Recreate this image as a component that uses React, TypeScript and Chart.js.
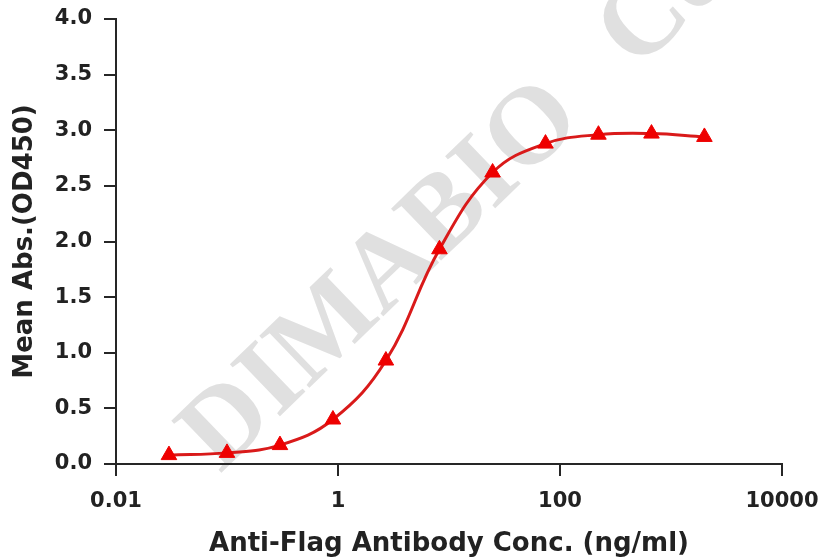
import React, { useEffect, useRef } from "react";
import { Chart, registerables } from "chart.js";

Chart.register(...registerables);

// ---- data ----
const concentrations = [0.03, 0.1, 0.3, 0.9, 2.7, 8.2, 24.7, 74, 222, 667, 2000];
const meanAbs = [0.08, 0.1, 0.17, 0.4, 0.93, 1.93, 2.62, 2.88, 2.96, 2.97, 2.94];
const xTickValues = [0.01, 1, 100, 10000];
const yTickValues = [0, 0.5, 1.0, 1.5, 2.0, 2.5, 3.0, 3.5, 4.0];
const xTitle = "Anti-Flag Antibody Conc. (ng/ml)";
const yTitle = "Mean Abs.(OD450)";
const watermarkWords = ["DIMABIO", "Co."];

const TEXT = "#222222";
const AXIS = "#262626";
const FONT_FAMILY = '"DejaVu Sans", "Liberation Sans", Arial, sans-serif';

const watermarkPlugin = {
  id: "watermark",
  beforeDraw(chart: any) {
    const ctx = chart.ctx as CanvasRenderingContext2D;
    ctx.save();
    ctx.translate(220, 474);
    ctx.rotate((-44 * Math.PI) / 180);
    ctx.font = 'bold 110px "Liberation Serif", "DejaVu Serif", serif';
    ctx.fillStyle = "#e0e0e0";
    ctx.textBaseline = "alphabetic";
    ctx.textAlign = "left";
    let x = 0;
    watermarkWords.forEach((w) => {
      ctx.fillText(w, x, 0);
      x += ctx.measureText(w).width + 72;
    });
    ctx.restore();
  },
};

export default function App() {
  const canvasRef = useRef<HTMLCanvasElement | null>(null);

  useEffect(() => {
    if (!canvasRef.current) return;
    const points = concentrations.map((c, i) => ({ x: c, y: meanAbs[i] }));
    const chart = new Chart(canvasRef.current, {
      type: "scatter",
      data: {
        datasets: [
          {
            data: points,
            showLine: true,
            borderColor: "#d91a1a",
            borderWidth: 3,
            backgroundColor: "#ee0000",
            pointBackgroundColor: "#ee0000",
            pointBorderColor: "#ee0000",
            pointBorderWidth: 1,
            pointStyle: "triangle",
            pointRadius: 9,
            tension: 0.4,
          } as any,
        ],
      },
      options: {
        animation: false,
        responsive: false,
        devicePixelRatio: 1,
        layout: { padding: { left: 0, top: 19, right: 41, bottom: 0 } },
        plugins: {
          legend: { display: false },
          tooltip: { enabled: false },
        },
        scales: {
          x: {
            type: "logarithmic",
            min: 0.01,
            max: 10000,
            afterBuildTicks: (scale: any) => {
              scale.ticks = xTickValues.map((v) => ({ value: v }));
            },
            afterFit: (scale: any) => {
              scale.height = 96;
              scale.paddingLeft = 0;
              scale.paddingRight = 0;
            },
            ticks: {
              autoSkip: false,
              maxRotation: 0,
              padding: 13,
              color: TEXT,
              font: { family: FONT_FAMILY, size: 21, weight: "bold" },
              callback: (v: any) => String(v),
            },
            grid: {
              drawOnChartArea: false,
              drawTicks: true,
              tickLength: 12,
              color: AXIS,
              lineWidth: 2,
            },
            border: { display: true, color: AXIS, width: 2 },
            title: {
              display: true,
              text: xTitle,
              color: TEXT,
              font: { family: FONT_FAMILY, size: 26, weight: "bold" },
              padding: { top: 0, bottom: 0 },
            },
          } as any,
          y: {
            type: "linear",
            min: 0,
            max: 4,
            afterBuildTicks: (scale: any) => {
              scale.ticks = yTickValues.map((v) => ({ value: v }));
            },
            afterFit: (scale: any) => {
              scale.width = 116;
              scale.paddingTop = 0;
              scale.paddingBottom = 0;
            },
            ticks: {
              padding: 12,
              color: TEXT,
              font: { family: FONT_FAMILY, size: 21, weight: "bold" },
              callback: (v: any) => Number(v).toFixed(1),
            },
            grid: {
              drawOnChartArea: false,
              drawTicks: true,
              tickLength: 12,
              color: AXIS,
              lineWidth: 2,
            },
            border: { display: true, color: AXIS, width: 2 },
            title: {
              display: true,
              text: yTitle,
              color: TEXT,
              font: { family: FONT_FAMILY, size: 26, weight: "bold" },
              padding: { top: 10, bottom: 0 },
            },
          } as any,
        },
      },
      plugins: [watermarkPlugin],
    });
    return () => chart.destroy();
  }, []);

  return (
    <div style={{ position: "absolute", left: 0, top: 0, width: 823, height: 560, background: "#ffffff" }}>
      <canvas ref={canvasRef} width={823} height={560} style={{ display: "block", width: 823, height: 560 }} />
    </div>
  );
}
